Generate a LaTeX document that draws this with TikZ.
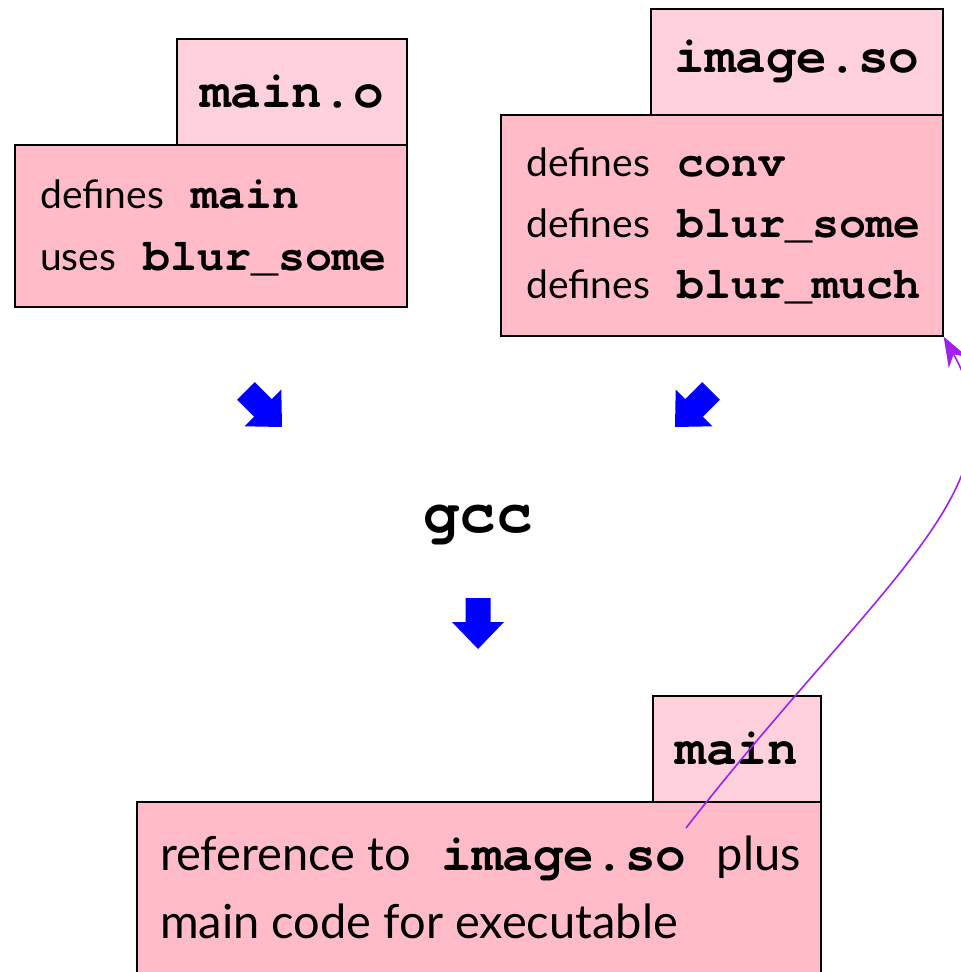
\documentclass[tikz,border=0pt]{standalone}
\usepackage{fontspec}
\setmainfont{Lato}
\setmonofont{texgyrecursor}[Extension=.otf, UprightFont=*-regular, BoldFont=*-bold]
\usetikzlibrary{arrows.meta}

\definecolor{taglight}{RGB}{255,209,220}
\definecolor{bodypink}{RGB}{255,188,200}
\definecolor{linkpurple}{RGB}{160,32,240}

% bold typewriter words set inside the sans text lines
\newcommand{\code}[2]{{\fontsize{#1}{#1}\ttfamily\bfseries #2}}

\tikzset{
  tagbox/.style={draw=black, line width=1.6pt, fill=taglight, inner sep=0pt,
                 anchor=north west, font=\fontsize{51}{60}\ttfamily\bfseries},
  bodybox/.style={draw=black, line width=1.6pt, fill=bodypink, inner sep=0pt,
                  anchor=north west},
  smalltext/.style={anchor=base west, inner sep=0pt,
                    font=\fontsize{39}{46}\selectfont},
  bigtext/.style={anchor=base west, inner sep=0pt,
                  font=\fontsize{47}{54}\selectfont},
  blockarrow/.style={fill=blue, draw=none},
  link/.style={draw=linkpurple, line width=1.6pt,
               -{Stealth[length=30pt, width=22pt]}}
}

% thick block arrow pointing down, tip at the origin
\newcommand{\blockdown}{(0,0) -- (-26,-27) -- (-12.5,-27) -- (-12.5,-51)
  -- (12.5,-51) -- (12.5,-27) -- (26,-27) -- cycle}

\begin{document}
\begin{tikzpicture}[x=1pt, y=-1pt]
  \useasboundingbox (0,0) rectangle (961,972);

  % main.o
  \node[tagbox, minimum width=230pt, minimum height=106pt] (mainoTag) at (176,38) {main.o};
  \node[bodybox, minimum width=392pt, minimum height=162pt] (mainoBody) at (14,144) {};
  \node[smalltext] (mainoL1) at (40,208) {defines\code{45}{ main}};
  \node[smalltext] (mainoL2) at (40,270) {uses\code{45}{ blur\_some}};

  % image.so
  \node[tagbox, minimum width=292pt, minimum height=106pt] (imgTag) at (650,8) {image.so};
  \node[bodybox, minimum width=442pt, minimum height=221pt] (imgBody) at (500,114) {};
  \node[smalltext] (imgL1) at (526,176) {defines\code{45}{ conv}};
  \node[smalltext] (imgL2) at (526,237) {defines\code{45}{ blur\_some}};
  \node[smalltext] (imgL3) at (526,298) {defines\code{45}{ blur\_much}};

  % linker step
  \fill[blockarrow, shift={(282,427)}, rotate=45] \blockdown;
  \fill[blockarrow, shift={(675,427)}, rotate=-45] \blockdown;
  \node[anchor=base, inner sep=0pt, font=\fontsize{61}{70}\ttfamily\bfseries] (gcc) at (478,532) {gcc};
  \fill[blockarrow, shift={(478,649)}] \blockdown;

  % main executable
  \node[tagbox, minimum width=168pt, minimum height=106pt] (mainTag) at (652,695) {main};
  \node[bodybox, minimum width=684pt, minimum height=230pt] (mainBody) at (136,801) {};
  \node[bigtext] (mainL1) at (160,870) {reference to\code{51}{ image.so }plus};
  \node[bigtext] (mainL2) at (160,938) {main code for executable};

  % dynamic link back to the shared library
  \coordinate (linkStart) at (686,828);
  \draw[link] (linkStart) .. controls (881,578) and (1027,484) .. (imgBody.south east);
\end{tikzpicture}
\end{document}
